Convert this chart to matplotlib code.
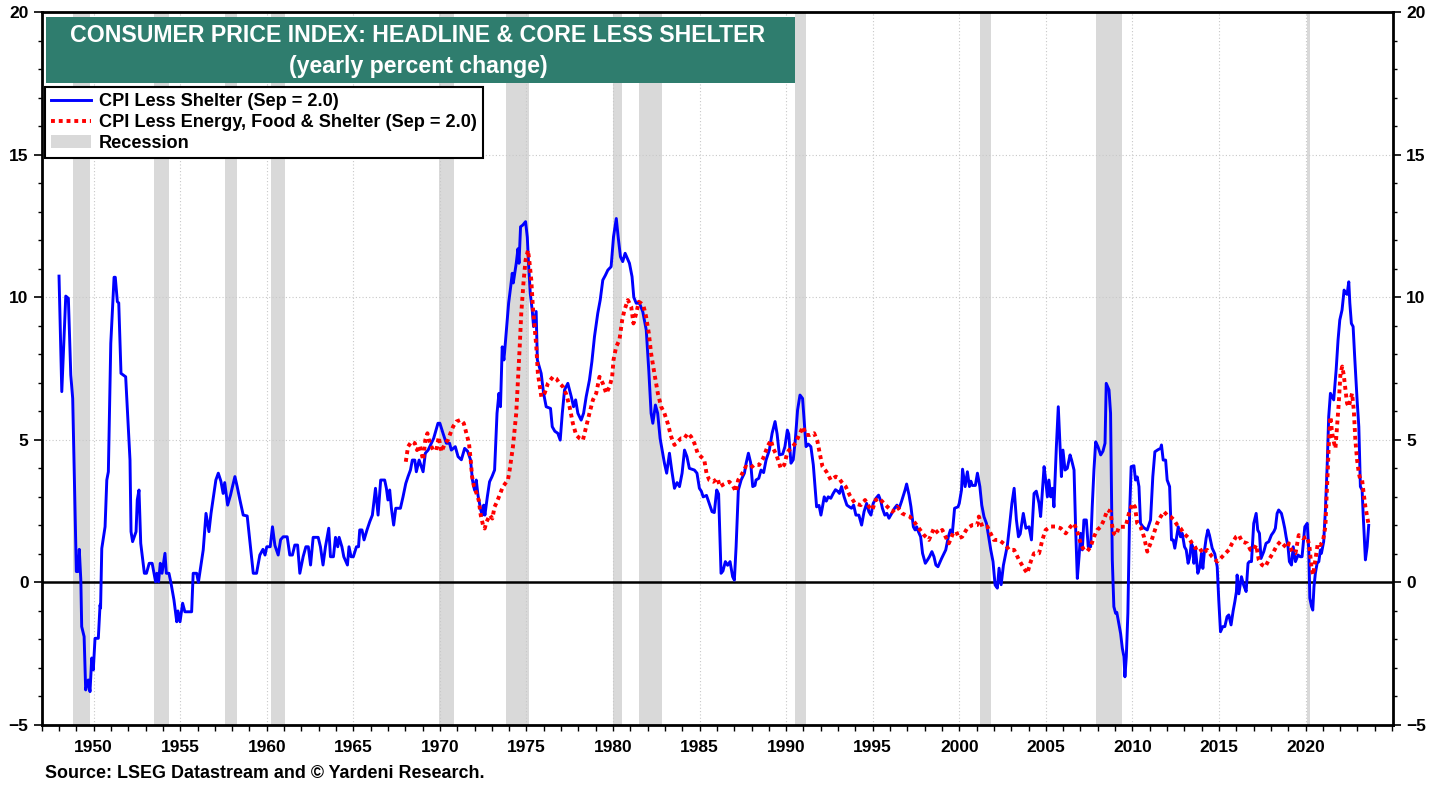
import matplotlib
matplotlib.use("Agg")
import matplotlib.pyplot as plt
from matplotlib.patches import Rectangle, Patch
from matplotlib.lines import Line2D
from matplotlib.ticker import MultipleLocator

plt.rcParams['font.family'] = ['Liberation Sans', 'DejaVu Sans']
plt.rcParams['font.weight'] = 'bold'

# CPI less shelter, yearly % change (decimal year, value)
blue_year = [
    1948.00, 1948.16, 1948.39, 1948.54, 1948.68, 1948.79, 1949.00, 1949.10, 1949.17, 1949.26,
    1949.31, 1949.45, 1949.54, 1949.69, 1949.79, 1949.89, 1949.98, 1950.08, 1950.27, 1950.37,
    1950.40, 1950.47, 1950.66, 1950.76, 1950.85, 1950.99, 1951.18, 1951.25, 1951.37, 1951.45,
    1951.58, 1951.85, 1952.10, 1952.16, 1952.25, 1952.45, 1952.52, 1952.62, 1952.72, 1952.93,
    1953.05, 1953.21, 1953.38, 1953.58, 1953.65, 1953.75, 1953.85, 1953.95, 1954.12, 1954.20,
    1954.35, 1954.47, 1954.64, 1954.80, 1954.87, 1954.99, 1955.14, 1955.27, 1955.66, 1955.75,
    1955.95, 1956.05, 1956.33, 1956.49, 1956.66, 1956.78, 1957.06, 1957.20, 1957.35, 1957.48,
    1957.57, 1957.74, 1957.91, 1958.02, 1958.16, 1958.29, 1958.45, 1958.64, 1958.87, 1959.22,
    1959.41, 1959.60, 1959.78, 1959.90, 1960.00, 1960.20, 1960.33, 1960.47, 1960.66, 1960.80,
    1960.95, 1961.18, 1961.33, 1961.48, 1961.62, 1961.78, 1961.91, 1962.10, 1962.26, 1962.40,
    1962.53, 1962.68, 1962.97, 1963.10, 1963.25, 1963.39, 1963.58, 1963.68, 1963.85, 1963.97,
    1964.10, 1964.18, 1964.34, 1964.45, 1964.66, 1964.75, 1964.87, 1965.00, 1965.18, 1965.30,
    1965.37, 1965.50, 1965.62, 1965.79, 1965.95, 1966.10, 1966.28, 1966.43, 1966.58, 1966.81,
    1966.91, 1967.00, 1967.10, 1967.20, 1967.33, 1967.45, 1967.72, 1967.87, 1968.03, 1968.16,
    1968.30, 1968.41, 1968.55, 1968.64, 1968.80, 1969.03, 1969.16, 1969.32, 1969.64, 1969.89,
    1970.00, 1970.18, 1970.37, 1970.56, 1970.66, 1970.89, 1971.05, 1971.24, 1971.43, 1971.60,
    1971.77, 1971.88, 1972.00, 1972.10, 1972.20, 1972.36, 1972.45, 1972.53, 1972.60, 1972.74,
    1972.87, 1973.01, 1973.16, 1973.30, 1973.41, 1973.50, 1973.60, 1973.70, 1973.84, 1973.97,
    1974.09, 1974.18, 1974.24, 1974.41, 1974.51, 1974.57, 1974.66, 1974.79, 1974.95, 1975.05,
    1975.12, 1975.22, 1975.34, 1975.41, 1975.56, 1975.63, 1975.85, 1975.99, 1976.14, 1976.39,
    1976.49, 1976.64, 1976.81, 1976.95, 1977.07, 1977.20, 1977.39, 1977.59, 1977.72, 1977.84,
    1977.97, 1978.16, 1978.30, 1978.45, 1978.64, 1978.78, 1978.93, 1979.12, 1979.26, 1979.41,
    1979.56, 1979.70, 1979.89, 1980.03, 1980.19, 1980.30, 1980.43, 1980.56, 1980.70, 1980.95,
    1981.10, 1981.20, 1981.34, 1981.53, 1981.72, 1981.92, 1982.07, 1982.20, 1982.30, 1982.45,
    1982.58, 1982.72, 1982.97, 1983.10, 1983.26, 1983.39, 1983.55, 1983.70, 1983.84, 1983.99,
    1984.13, 1984.27, 1984.41, 1984.70, 1984.85, 1984.99, 1985.10, 1985.21, 1985.40, 1985.56,
    1985.72, 1985.85, 1985.99, 1986.10, 1986.24, 1986.35, 1986.49, 1986.62, 1986.76, 1986.91,
    1987.01, 1987.11, 1987.24, 1987.40, 1987.59, 1987.69, 1987.82, 1987.95, 1988.07, 1988.20,
    1988.26, 1988.42, 1988.55, 1988.70, 1988.84, 1989.03, 1989.19, 1989.36, 1989.48, 1989.61,
    1989.80, 1989.93, 1990.07, 1990.15, 1990.28, 1990.41, 1990.53, 1990.66, 1990.80, 1990.95,
    1991.05, 1991.15, 1991.28, 1991.43, 1991.57, 1991.67, 1991.76, 1991.90, 1992.01, 1992.10,
    1992.20, 1992.32, 1992.43, 1992.58, 1992.72, 1992.85, 1992.97, 1993.08, 1993.20, 1993.35,
    1993.51, 1993.65, 1993.78, 1993.90, 1994.03, 1994.20, 1994.36, 1994.50, 1994.65, 1994.78,
    1994.90, 1995.03, 1995.19, 1995.34, 1995.47, 1995.56, 1995.70, 1995.82, 1995.94, 1996.10,
    1996.26, 1996.40, 1996.53, 1996.66, 1996.87, 1996.96, 1997.10, 1997.21, 1997.35, 1997.45,
    1997.54, 1997.64, 1997.77, 1997.88, 1998.04, 1998.16, 1998.28, 1998.42, 1998.54, 1998.65,
    1998.77, 1998.98, 1999.22, 1999.37, 1999.49, 1999.60, 1999.73, 1999.93, 2000.00, 2000.13,
    2000.19, 2000.34, 2000.47, 2000.59, 2000.67, 2000.75, 2000.93, 2001.05, 2001.19, 2001.30,
    2001.43, 2001.57, 2001.70, 2001.82, 2001.95, 2002.07, 2002.20, 2002.30, 2002.42, 2002.55,
    2002.65, 2002.78, 2002.92, 2003.04, 2003.17, 2003.30, 2003.42, 2003.52, 2003.70, 2003.85,
    2004.03, 2004.17, 2004.32, 2004.45, 2004.61, 2004.70, 2004.90, 2004.99, 2005.09, 2005.18,
    2005.28, 2005.38, 2005.47, 2005.61, 2005.72, 2005.82, 2005.90, 2005.99, 2006.11, 2006.24,
    2006.40, 2006.49, 2006.63, 2006.72, 2006.82, 2006.92, 2007.01, 2007.11, 2007.20, 2007.34,
    2007.45, 2007.59, 2007.68, 2007.78, 2007.88, 2008.01, 2008.17, 2008.30, 2008.42, 2008.49,
    2008.65, 2008.74, 2008.84, 2008.93, 2009.03, 2009.10, 2009.18, 2009.32, 2009.42, 2009.51,
    2009.57, 2009.65, 2009.74, 2009.84, 2009.93, 2010.09, 2010.18, 2010.28, 2010.38, 2010.47,
    2010.61, 2010.70, 2010.86, 2011.05, 2011.18, 2011.30, 2011.47, 2011.63, 2011.68, 2011.78,
    2011.92, 2012.01, 2012.15, 2012.26, 2012.36, 2012.45, 2012.53, 2012.65, 2012.78, 2012.88,
    2013.01, 2013.11, 2013.22, 2013.32, 2013.40, 2013.49, 2013.55, 2013.65, 2013.78, 2013.90,
    2013.99, 2014.07, 2014.17, 2014.26, 2014.36, 2014.45, 2014.61, 2014.76, 2014.90, 2014.99,
    2015.09, 2015.22, 2015.34, 2015.47, 2015.57, 2015.70, 2015.82, 2015.92, 2016.01, 2016.05,
    2016.15, 2016.30, 2016.43, 2016.57, 2016.68, 2016.76, 2016.88, 2017.01, 2017.15, 2017.24,
    2017.34, 2017.43, 2017.59, 2017.72, 2017.88, 2018.03, 2018.17, 2018.26, 2018.36, 2018.45,
    2018.61, 2018.70, 2018.80, 2018.88, 2018.99, 2019.07, 2019.19, 2019.29, 2019.42, 2019.57,
    2019.70, 2019.80, 2019.96, 2020.10, 2020.19, 2020.25, 2020.35, 2020.42, 2020.49, 2020.57,
    2020.67, 2020.77, 2020.86, 2020.92, 2021.05, 2021.15, 2021.25, 2021.34, 2021.44, 2021.54,
    2021.63, 2021.77, 2021.88, 2021.98, 2022.11, 2022.23, 2022.30, 2022.40, 2022.50, 2022.56,
    2022.65, 2022.75, 2022.84, 2022.98, 2023.08, 2023.17, 2023.27, 2023.33, 2023.46, 2023.56,
    2023.65,
]
blue_val = [
    10.74, 6.69, 10.04, 9.96, 7.27, 6.45, 0.38, 0.38, 1.16, 0.08,
    -1.55, -1.90, -3.77, -3.42, -3.83, -2.65, -3.07, -1.96, -1.96, -0.79,
    -0.90, 1.19, 1.95, 3.59, 3.88, 8.38, 10.70, 10.70, 9.84, 9.80,
    7.33, 7.21, 4.29, 1.78, 1.43, 1.78, 2.89, 3.24, 1.37, 0.32,
    0.32, 0.67, 0.67, 0.02, 0.32, 0.02, 0.67, 0.32, 1.02, 0.32,
    0.32, -0.03, -0.62, -1.38, -1.00, -1.38, -0.73, -1.03, -1.03, 0.32,
    0.32, 0.00, 1.14, 2.42, 1.78, 2.42, 3.59, 3.83, 3.55, 3.12,
    3.50, 2.71, 3.07, 3.36, 3.71, 3.36, 2.89, 2.36, 2.33, 0.32,
    0.32, 0.96, 1.16, 0.96, 1.25, 1.25, 1.95, 1.30, 0.96, 1.50,
    1.60, 1.60, 0.96, 0.96, 1.31, 1.31, 0.32, 0.90, 1.25, 1.25,
    0.61, 1.58, 1.58, 1.25, 0.61, 1.25, 1.90, 0.90, 0.90, 1.58,
    1.25, 1.58, 1.25, 0.90, 0.61, 1.25, 0.90, 0.90, 1.25, 1.25,
    1.84, 1.84, 1.49, 1.84, 2.13, 2.36, 3.30, 2.36, 3.59, 3.59,
    3.30, 2.89, 3.24, 2.60, 2.01, 2.60, 2.60, 3.00, 3.47, 3.71,
    3.94, 4.29, 4.29, 3.88, 4.29, 3.88, 4.53, 4.64, 5.05, 5.58,
    5.58, 5.23, 4.88, 4.88, 4.64, 4.76, 4.41, 4.30, 4.70, 4.60,
    4.30, 3.59, 3.24, 3.59, 3.06, 2.54, 2.36, 2.71, 2.36, 3.00,
    3.53, 3.71, 3.94, 5.93, 6.63, 6.16, 8.26, 7.80, 8.85, 9.79,
    10.37, 10.84, 10.50, 11.19, 11.70, 11.19, 12.47, 12.53, 12.65, 12.10,
    11.19, 10.14, 9.50, 8.97, 9.50, 7.80, 7.33, 6.63, 6.16, 6.10,
    5.46, 5.30, 5.23, 4.99, 5.93, 6.75, 6.98, 6.51, 6.16, 6.40,
    5.93, 5.69, 5.93, 6.51, 7.10, 7.74, 8.62, 9.44, 9.90, 10.60,
    10.77, 10.95, 11.07, 12.12, 12.76, 12.10, 11.42, 11.25, 11.54, 11.19,
    10.72, 10.00, 9.79, 9.79, 9.49, 8.85, 7.40, 5.93, 5.58, 6.22,
    5.93, 5.05, 4.18, 3.83, 4.53, 3.94, 3.30, 3.50, 3.36, 3.83,
    4.64, 4.41, 4.00, 3.94, 3.83, 3.30, 3.20, 3.00, 3.05, 2.77,
    2.48, 2.45, 3.24, 3.10, 0.32, 0.40, 0.73, 0.60, 0.73, 0.20,
    0.08, 1.25, 3.24, 3.59, 3.83, 4.18, 4.53, 4.20, 3.36, 3.40,
    3.59, 3.65, 3.94, 3.85, 4.29, 4.64, 5.23, 5.64, 5.20, 4.47,
    4.50, 4.76, 5.34, 5.20, 4.18, 4.30, 4.99, 6.04, 6.57, 6.45,
    5.58, 4.76, 4.85, 4.76, 4.12, 3.36, 2.65, 2.70, 2.36, 2.65,
    3.00, 2.85, 3.00, 2.95, 3.12, 3.25, 3.20, 3.12, 3.36, 3.00,
    2.71, 2.65, 2.60, 2.71, 2.36, 2.36, 2.01, 2.48, 2.77, 2.48,
    2.36, 2.77, 2.95, 3.06, 2.85, 2.60, 2.36, 2.42, 2.25, 2.42,
    2.60, 2.71, 2.60, 2.83, 3.24, 3.45, 3.06, 2.65, 1.95, 1.84,
    1.95, 1.78, 1.60, 1.02, 0.67, 0.78, 0.90, 1.08, 0.90, 0.61,
    0.55, 0.84, 1.14, 1.60, 1.84, 1.72, 2.60, 2.65, 2.77, 3.24,
    3.97, 3.36, 3.88, 3.36, 3.55, 3.40, 3.40, 3.83, 3.36, 2.71,
    2.30, 2.07, 1.60, 1.14, 0.73, -0.09, -0.20, 0.50, -0.08, 0.60,
    0.90, 1.30, 2.07, 2.77, 3.30, 2.20, 1.60, 1.70, 2.42, 1.90,
    1.95, 1.49, 3.12, 3.20, 2.77, 2.31, 4.06, 3.60, 3.00, 3.59,
    3.00, 3.30, 2.65, 4.76, 6.16, 4.76, 3.71, 4.64, 3.94, 4.00,
    4.47, 4.29, 3.94, 1.95, 0.14, 0.90, 1.72, 1.14, 2.19, 2.19,
    1.25, 1.25, 2.65, 3.94, 4.93, 4.76, 4.47, 4.60, 4.88, 6.98,
    6.75, 5.93, 0.79, -0.85, -1.08, -1.05, -1.32, -1.79, -2.31, -2.60,
    -3.31, -2.60, -1.08, 2.42, 4.06, 4.09, 3.59, 3.70, 3.36, 2.07,
    1.95, 1.90, 1.84, 2.19, 3.71, 4.58, 4.65, 4.70, 4.82, 4.29,
    4.29, 3.59, 3.36, 1.49, 1.49, 1.20, 1.49, 1.95, 1.60, 1.72,
    1.25, 1.14, 0.67, 0.90, 1.37, 1.25, 0.67, 1.14, 0.32, 0.55,
    1.02, 0.49, 1.14, 1.55, 1.84, 1.66, 1.20, 1.00, 0.55, -0.62,
    -1.73, -1.55, -1.55, -1.20, -1.14, -1.49, -1.00, -0.67, -0.32, 0.26,
    -0.40, 0.20, -0.10, -0.32, 0.67, 0.73, 0.73, 2.07, 2.42, 1.84,
    1.72, 0.84, 1.08, 1.37, 1.43, 1.66, 1.78, 1.90, 2.42, 2.54,
    2.42, 2.19, 1.90, 1.60, 1.25, 0.73, 0.61, 1.25, 0.73, 0.96,
    0.90, 0.90, 1.95, 2.07, 1.13, -0.55, -0.85, -0.97, -0.15, 0.32,
    0.67, 0.73, 1.14, 1.02, 1.43, 2.54, 4.06, 5.81, 6.63, 6.51,
    6.40, 7.45, 8.50, 9.20, 9.55, 10.25, 10.15, 10.10, 10.54, 9.80,
    9.08, 8.97, 7.92, 6.40, 5.46, 3.36, 3.24, 2.40, 0.79, 1.25,
    2.00,
]

# CPI less energy, food & shelter, yearly % change
red_year = [
    1968.03, 1968.16, 1968.36, 1968.55, 1968.68, 1968.84, 1969.03, 1969.16, 1969.28, 1969.41,
    1969.61, 1969.80, 1969.93, 1970.09, 1970.28, 1970.47, 1970.61, 1970.76, 1970.95, 1971.20,
    1971.38, 1971.53, 1971.68, 1971.78, 1971.86, 1971.97, 1972.11, 1972.24, 1972.36, 1972.49,
    1972.59, 1972.68, 1972.88, 1973.03, 1973.16, 1973.30, 1973.45, 1973.64, 1973.93, 1974.03,
    1974.22, 1974.41, 1974.51, 1974.61, 1974.70, 1974.84, 1974.95, 1975.09, 1975.18, 1975.28,
    1975.37, 1975.47, 1975.57, 1975.66, 1975.86, 1976.05, 1976.24, 1976.53, 1976.72, 1976.91,
    1977.11, 1977.30, 1977.49, 1977.68, 1977.87, 1978.07, 1978.26, 1978.45, 1978.64, 1978.84,
    1979.03, 1979.22, 1979.41, 1979.61, 1979.80, 1979.95, 1980.03, 1980.18, 1980.37, 1980.53,
    1980.66, 1980.86, 1981.05, 1981.18, 1981.34, 1981.49, 1981.62, 1981.76, 1981.91, 1982.07,
    1982.20, 1982.39, 1982.59, 1982.78, 1982.97, 1983.16, 1983.36, 1983.55, 1983.74, 1983.93,
    1984.12, 1984.32, 1984.51, 1984.70, 1984.89, 1985.08, 1985.27, 1985.40, 1985.56, 1985.79,
    1986.04, 1986.17, 1986.42, 1986.71, 1986.90, 1987.10, 1987.23, 1987.42, 1987.67, 1987.92,
    1988.15, 1988.44, 1988.67, 1988.92, 1989.12, 1989.25, 1989.44, 1989.69, 1989.89, 1990.08,
    1990.37, 1990.56, 1990.75, 1990.98, 1991.14, 1991.37, 1991.62, 1991.81, 1991.94, 1992.10,
    1992.33, 1992.58, 1992.87, 1993.06, 1993.19, 1993.44, 1993.67, 1993.98, 1994.31, 1994.56,
    1994.79, 1994.98, 1995.17, 1995.37, 1995.56, 1995.85, 1996.14, 1996.42, 1996.71, 1996.90,
    1997.14, 1997.39, 1997.67, 1997.96, 1998.25, 1998.54, 1998.79, 1999.02, 1999.21, 1999.40,
    1999.64, 1999.83, 1999.98, 2000.17, 2000.46, 2000.75, 2001.04, 2001.13, 2001.33, 2001.62,
    2001.81, 2002.00, 2002.29, 2002.68, 2002.88, 2003.17, 2003.45, 2003.74, 2003.93, 2004.13,
    2004.32, 2004.61, 2004.80, 2004.99, 2005.28, 2005.57, 2005.86, 2006.15, 2006.43, 2006.63,
    2006.82, 2007.01, 2007.20, 2007.40, 2007.59, 2007.78, 2007.97, 2008.17, 2008.36, 2008.55,
    2008.74, 2008.84, 2008.93, 2009.07, 2009.22, 2009.42, 2009.61, 2009.80, 2010.00, 2010.15,
    2010.28, 2010.47, 2010.67, 2010.86, 2011.05, 2011.24, 2011.43, 2011.63, 2011.82, 2012.01,
    2012.20, 2012.40, 2012.59, 2012.78, 2012.97, 2013.26, 2013.45, 2013.65, 2013.84, 2014.07,
    2014.32, 2014.61, 2014.90, 2015.09, 2015.28, 2015.57, 2015.76, 2015.99, 2016.15, 2016.34,
    2016.63, 2016.82, 2017.01, 2017.15, 2017.30, 2017.49, 2017.68, 2017.88, 2018.11, 2018.36,
    2018.55, 2018.75, 2018.93, 2019.04, 2019.23, 2019.42, 2019.61, 2019.84, 2020.10, 2020.23,
    2020.35, 2020.44, 2020.58, 2020.71, 2020.87, 2021.02, 2021.15, 2021.21, 2021.28, 2021.34,
    2021.44, 2021.53, 2021.63, 2021.73, 2021.82, 2021.92, 2022.02, 2022.12, 2022.21, 2022.31,
    2022.40, 2022.50, 2022.60, 2022.69, 2022.79, 2022.88, 2022.98, 2023.08, 2023.17, 2023.27,
    2023.36, 2023.46, 2023.56, 2023.65,
]
red_val = [
    4.23, 4.76, 4.94, 4.88, 4.64, 4.80, 4.29, 5.00, 5.23, 4.90,
    4.64, 4.64, 5.10, 4.58, 4.85, 5.00, 5.23, 5.46, 5.64, 5.70,
    5.58, 5.23, 4.88, 4.29, 3.71, 3.36, 3.13, 2.89, 2.36, 2.01,
    1.89, 2.10, 2.36, 2.24, 2.65, 2.83, 3.06, 3.36, 3.59, 3.94,
    4.76, 5.93, 7.10, 8.26, 9.43, 10.60, 11.30, 11.65, 11.20, 10.60,
    9.67, 8.97, 8.26, 7.33, 6.51, 6.63, 6.98, 7.21, 7.15, 6.98,
    6.86, 6.60, 6.16, 5.58, 5.17, 5.05, 4.99, 5.46, 5.93, 6.40,
    6.63, 7.21, 6.98, 6.63, 6.86, 7.21, 7.80, 8.26, 8.50, 9.20,
    9.55, 9.90, 9.67, 9.08, 9.43, 9.84, 9.79, 9.70, 9.32, 8.73,
    8.03, 7.33, 6.63, 6.16, 5.93, 5.58, 5.11, 4.82, 4.94, 5.05,
    5.05, 5.23, 5.11, 4.88, 4.53, 4.41, 4.30, 3.83, 3.59, 3.53,
    3.65, 3.36, 3.45, 3.53, 3.42, 3.18, 3.59, 3.77, 4.06, 4.00,
    4.12, 4.12, 4.35, 4.76, 4.99, 4.70, 4.47, 4.00, 4.12, 4.58,
    4.76, 4.90, 5.17, 5.46, 5.17, 5.17, 5.23, 4.94, 4.53, 4.06,
    3.88, 3.59, 3.71, 3.65, 3.53, 3.36, 3.06, 2.77, 2.71, 2.89,
    2.65, 2.54, 2.89, 2.95, 2.83, 2.65, 2.48, 2.65, 2.42, 2.36,
    2.31, 2.13, 1.90, 1.66, 1.49, 1.90, 1.72, 1.84, 1.60, 1.37,
    1.72, 1.78, 1.55, 1.60, 1.90, 2.01, 2.01, 2.31, 1.96, 1.96,
    1.72, 1.49, 1.49, 1.31, 1.14, 1.14, 0.79, 0.49, 0.32, 0.73,
    1.02, 1.02, 1.49, 1.84, 1.96, 1.96, 1.90, 1.72, 1.96, 2.07,
    1.78, 1.37, 1.14, 1.10, 1.25, 1.60, 1.84, 1.95, 2.19, 2.54,
    2.48, 1.96, 1.72, 1.66, 1.95, 1.95, 1.95, 2.42, 2.77, 2.65,
    2.07, 1.95, 1.60, 1.08, 1.37, 1.72, 2.07, 2.30, 2.48, 2.36,
    2.31, 2.19, 2.01, 1.90, 1.72, 1.55, 1.37, 1.20, 1.25, 1.02,
    1.14, 0.90, 0.73, 0.84, 0.96, 1.14, 1.37, 1.60, 1.66, 1.43,
    1.37, 1.14, 1.14, 1.31, 0.79, 0.61, 0.55, 0.79, 1.02, 1.31,
    1.43, 1.31, 1.20, 1.37, 1.08, 1.02, 1.66, 1.55, 1.60, 1.25,
    0.49, 0.26, 0.84, 1.37, 1.31, 1.49, 1.96, 2.89, 3.83, 4.76,
    5.81, 5.28, 4.94, 4.70, 5.46, 6.28, 7.33, 7.57, 7.27, 6.75,
    6.28, 6.16, 6.40, 6.63, 6.04, 4.99, 4.29, 3.83, 3.59, 3.59,
    3.12, 2.65, 2.31, 2.01,
]

# NBER recessions (start, end) in decimal years
rec_start = [1948.83, 1953.50, 1957.58, 1960.25, 1969.92, 1973.83, 1980.00, 1981.50, 1990.50, 2001.17, 2007.92, 2020.08]
rec_end = [1949.79, 1954.37, 1958.29, 1961.08, 1970.83, 1975.17, 1980.50, 1982.83, 1991.17, 2001.83, 2009.42, 2020.25]

year_ticks = list(range(1950, 2021, 5))

blue = "#0000FF"
red = "#FF0000"
rec_gray = "#D9D9D9"
teal = "#2F7D6E"

fig = plt.figure(figsize=(14.43, 7.86), dpi=100)
ax = fig.add_axes([0.0289, 0.0776, 0.9364, 0.9071])

for s, e in zip(rec_start, rec_end):
    ax.axvspan(s, e, color=rec_gray, lw=0, zorder=0)

for y in [5, 10, 15]:
    ax.axhline(y, color="#C8C8C8", lw=0.8, ls=(0, (1, 2)), zorder=1)
for x in year_ticks:
    ax.axvline(x, color="#C8C8C8", lw=0.8, ls=(0, (1, 2)), zorder=1)
ax.axhline(0, color="black", lw=1.8, zorder=2)

ax.plot(blue_year, blue_val, color=blue, lw=2.1, zorder=3)
ax.plot(red_year, red_val, color=red, lw=2.8, ls=(0, (1, 1)), zorder=4)

ax.set_xlim(1947.0, 2025.05)
ax.set_ylim(-5, 20)
ax.set_xticks(year_ticks)
ax.xaxis.set_minor_locator(MultipleLocator(1))
ax.set_yticks([-5, 0, 5, 10, 15, 20])
ax.yaxis.set_minor_locator(MultipleLocator(1))
ax.tick_params(axis="y", which="major", direction="out", length=6, width=1.2,
               labelsize=12.5, right=True, labelright=True)
ax.tick_params(axis="y", which="minor", direction="out", length=3, width=1.0, right=True)
ax.tick_params(axis="x", which="both", direction="out", length=4, width=1.0,
               labelsize=12.5, pad=7)
for lab in ax.get_xticklabels() + ax.get_yticklabels():
    lab.set_fontweight("bold")
for side in ["left", "right", "top", "bottom"]:
    ax.spines[side].set_linewidth(2)

# title box
ax.add_patch(Rectangle((0.003, 0.9004), 0.5547, 0.0926, transform=ax.transAxes,
                       facecolor=teal, edgecolor="none", zorder=5))
ax.text(0.2785, 0.9677, "CONSUMER PRICE INDEX: HEADLINE & CORE LESS SHELTER",
        transform=ax.transAxes, ha="center", va="center", color="white",
        fontsize=16.7, fontweight="bold", zorder=6)
ax.text(0.2785, 0.9229, "(yearly percent change)", transform=ax.transAxes,
        ha="center", va="center", color="white", fontsize=16.7, fontweight="bold", zorder=6)

handles = [
    Line2D([], [], color=blue, lw=2.1),
    Line2D([], [], color=red, lw=2.8, ls=(0, (1, 1))),
    Patch(facecolor=rec_gray, edgecolor="none"),
]
labels = ["CPI Less Shelter (Sep = 2.0)",
          "CPI Less Energy, Food & Shelter (Sep = 2.0)",
          "Recession"]
leg = ax.legend(handles, labels, loc="upper left", bbox_to_anchor=(0.0024, 0.8948),
                borderaxespad=0, frameon=True, fancybox=False, framealpha=1,
                edgecolor="black", prop={"size": 13.1, "weight": "bold"},
                handlelength=2.2, handletextpad=0.4, labelspacing=0.2, borderpad=0.35)
leg.get_frame().set_linewidth(1.5)
leg.set_zorder(7)

fig.text(45 / 1443, 1 - 773 / 786, "Source: LSEG Datastream and \u00a9 Yardeni Research.",
         ha="left", va="center", fontsize=12.9, fontweight="bold")

fig.savefig("out.png", dpi=100)
